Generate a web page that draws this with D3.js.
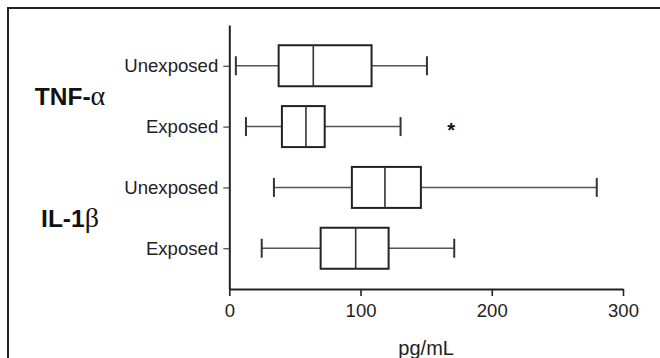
<!DOCTYPE html>
<html>
<head>
<meta charset="utf-8">
<script src="https://cdn.jsdelivr.net/npm/d3@7"></script>
<style>
  html, body { margin: 0; padding: 0; background: #fff; }
  svg { display: block; font-family: "Liberation Sans", Arial, sans-serif; }
</style>
</head>
<body>
<svg id="chart" width="660" height="358"></svg>
<script>
// ---- data ----
const rowKeys = ["TNF-U", "TNF-E", "IL-U", "IL-E"];
const rowLabels = ["Unexposed", "Exposed", "Unexposed", "Exposed"];
const groupNames = ["TNF-", "IL-1"];
const groupSymbols = ["α", "β"];
const groupRows = [["TNF-U", "TNF-E"], ["IL-U", "IL-E"]];
const whiskerMin = [5, 12.7, 34, 24.7];
const q1 = [37.6, 40.1, 93.4, 69.6];
const median = [64, 58.4, 118.6, 96.3];
const q3 = [108.4, 72.7, 146, 121.4];
const whiskerMax = [150.6, 130.5, 280, 171.4];
const markRow = ["TNF-E"];
const markValue = [169];
const markText = ["*"];
const xTicks = [0, 100, 200, 300];
const xTitle = "pg/mL";

// ---- layout ----
const svg = d3.select("#chart");
svg.append("rect").attr("x", 8).attr("y", 8).attr("width", 700).attr("height", 400)
  .attr("fill", "none").attr("stroke", "#222").attr("stroke-width", 2);

const x = d3.scaleLinear().domain([0, 300]).range([229.3, 623]);
const y = d3.scalePoint().domain(rowKeys).range([25, 289]).padding(0.67);

const yAxis = svg.append("g").attr("transform", "translate(229.3,0)")
  .call(d3.axisLeft(y).tickSize(6).tickSizeOuter(0).tickPadding(5)
    .tickFormat((d, i) => rowLabels[i]));
yAxis.select(".domain").attr("stroke", "#222").attr("stroke-width", 2);
yAxis.selectAll(".tick line").attr("stroke", "#444").attr("stroke-width", 1.2);
yAxis.selectAll(".tick text").attr("font-size", 18.6).attr("fill", "#222")
  .attr("font-family", "Liberation Sans, Arial, sans-serif");

const xAxis = svg.append("g").attr("transform", "translate(0,289)")
  .call(d3.axisBottom(x).tickValues(xTicks).tickSize(7).tickSizeOuter(0).tickPadding(8));
xAxis.select(".domain").attr("stroke", "#222").attr("stroke-width", 2);
xAxis.selectAll(".tick line").attr("stroke", "#222").attr("stroke-width", 1.6);
xAxis.selectAll(".tick text").attr("font-size", 18.5).attr("fill", "#222")
  .attr("font-family", "Liberation Sans, Arial, sans-serif");

svg.append("text").attr("x", (x(0) + x(300)) / 2).attr("y", 355)
  .attr("text-anchor", "middle").attr("font-size", 20).attr("fill", "#222")
  .text(xTitle);

// group labels
groupNames.forEach((g, i) => {
  const cy = (y(groupRows[i][0]) + y(groupRows[i][1])) / 2;
  const t = svg.append("text").attr("x", 70).attr("y", cy + 9)
    .attr("text-anchor", "middle").attr("font-size", 24.5).attr("font-weight", "bold")
    .attr("fill", "#111");
  t.append("tspan").text(g);
  t.append("tspan").attr("font-family", "Liberation Serif, Times New Roman, serif")
    .attr("font-weight", "normal").attr("font-size", 28).text(groupSymbols[i]);
});

// boxes
const boxH = 41, capH = 19;
rowKeys.forEach((k, i) => {
  const cy = y(k);
  const g = svg.append("g");
  g.append("line").attr("x1", x(whiskerMin[i])).attr("x2", x(q1[i]))
    .attr("y1", cy).attr("y2", cy).attr("stroke", "#555").attr("stroke-width", 1.5);
  g.append("line").attr("x1", x(q3[i])).attr("x2", x(whiskerMax[i]))
    .attr("y1", cy).attr("y2", cy).attr("stroke", "#555").attr("stroke-width", 1.5);
  [whiskerMin[i], whiskerMax[i]].forEach(v => {
    g.append("line").attr("x1", x(v)).attr("x2", x(v))
      .attr("y1", cy - capH / 2).attr("y2", cy + capH / 2)
      .attr("stroke", "#333").attr("stroke-width", 2);
  });
  g.append("rect").attr("x", x(q1[i])).attr("y", cy - boxH / 2)
    .attr("width", x(q3[i]) - x(q1[i])).attr("height", boxH)
    .attr("fill", "#fff").attr("stroke", "#222").attr("stroke-width", 2);
  g.append("line").attr("x1", x(median[i])).attr("x2", x(median[i]))
    .attr("y1", cy - boxH / 2).attr("y2", cy + boxH / 2)
    .attr("stroke", "#333").attr("stroke-width", 1.6);
});

// significance marks
markRow.forEach((k, i) => {
  svg.append("text").attr("x", x(markValue[i])).attr("y", y(k) + 10)
    .attr("text-anchor", "middle").attr("font-size", 20).attr("font-weight", "bold")
    .attr("fill", "#111").text(markText[i]);
});
</script>
</body>
</html>
